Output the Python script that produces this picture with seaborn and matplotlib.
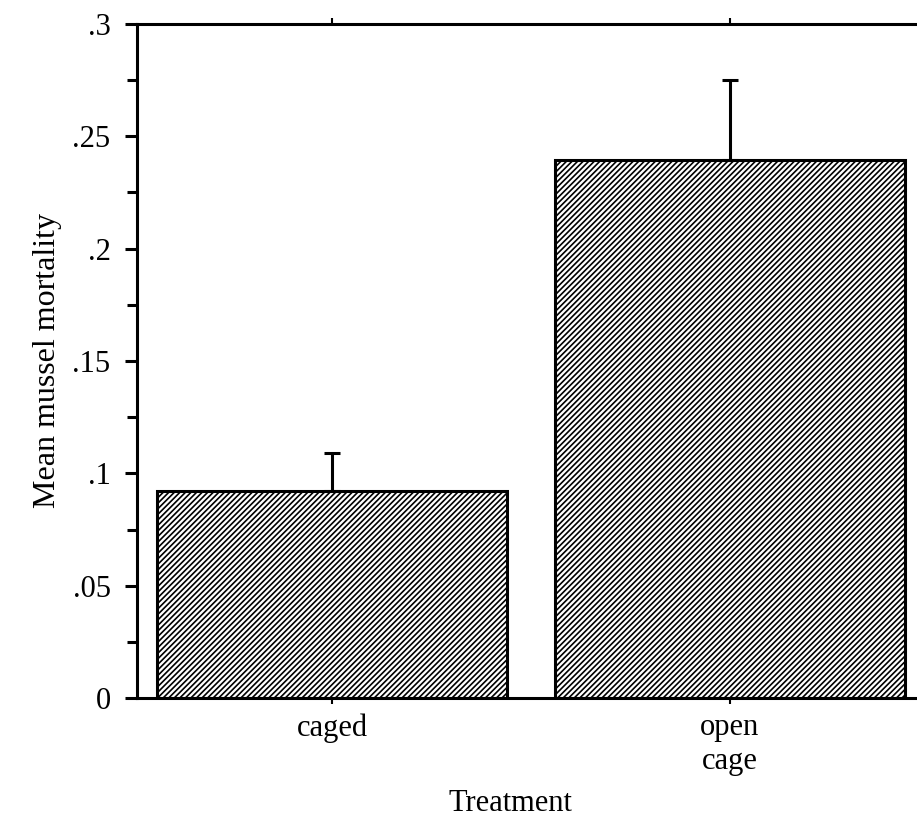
import matplotlib
matplotlib.use("Agg")
import matplotlib.pyplot as plt
import seaborn as sns
import pandas as pd
from matplotlib.ticker import MultipleLocator

categories = ["caged", "open\ncage"]
means = [0.092, 0.2395]
sems = [0.017, 0.0355]
y_ticks = [0, 0.05, 0.1, 0.15, 0.2, 0.25, 0.3]
y_tick_labels = ["0", ".05", ".1", ".15", ".2", ".25", ".3"]

sns.set_style("ticks")
plt.rcParams['font.family'] = ['Liberation Serif', 'DejaVu Serif']
plt.rcParams['hatch.linewidth'] = 1.2
plt.rcParams['hatch.color'] = 'black'
plt.rcParams['text.color'] = 'black'
plt.rcParams['axes.labelcolor'] = 'black'
plt.rcParams['xtick.color'] = 'black'
plt.rcParams['ytick.color'] = 'black'

df = pd.DataFrame({"Treatment": categories, "Mortality": means})

fig = plt.figure(figsize=(9.17, 8.17), dpi=100)
ax = fig.add_axes([137/917, 1 - 698/817, 1 - 137/917, (698 - 24)/817])

sns.barplot(data=df, x="Treatment", y="Mortality", color="white", edgecolor="black",
            linewidth=2.2, width=0.88, hatch="//////", errorbar=None, ax=ax)
for p in ax.patches:
    p.set_facecolor("white")
    p.set_hatch("//////")

ax.errorbar(range(len(categories)), means, yerr=[[0]*len(sems), sems], fmt="none",
            ecolor="black", elinewidth=2.2, capsize=6, capthick=2.2, zorder=1)

ax.set_ylim(0, 0.3)
ax.set_xlim(-0.49, 1.47)
ax.set_yticks(y_ticks)
ax.set_yticklabels(y_tick_labels)
ax.yaxis.set_minor_locator(MultipleLocator(0.025))

for s in ["left", "top", "bottom"]:
    ax.spines[s].set_visible(True)
    ax.spines[s].set_linewidth(2.2)
    ax.spines[s].set_color("black")
ax.spines["right"].set_visible(False)

ax.tick_params(axis="y", which="major", direction="out", length=9, width=2.2,
               labelsize=22, pad=10, colors="black")
ax.tick_params(axis="y", which="minor", direction="out", length=7, width=2.2)
ax.tick_params(axis="x", which="major", direction="out", length=4, width=1.5,
               top=True, labelsize=22, pad=7, colors="black")
for t in ax.get_xticklabels():
    t.set_multialignment("center")

ax.set_xlabel("Treatment", fontsize=22, color="black")
ax.set_ylabel("Mean mussel mortality", fontsize=23, color="black")
ax.xaxis.set_label_coords((510 - 137) / (917 - 137), -0.135)
ax.yaxis.set_label_coords(-(137 - 62) / (917 - 137), 0.5)

fig.savefig("out.png", dpi=100)
